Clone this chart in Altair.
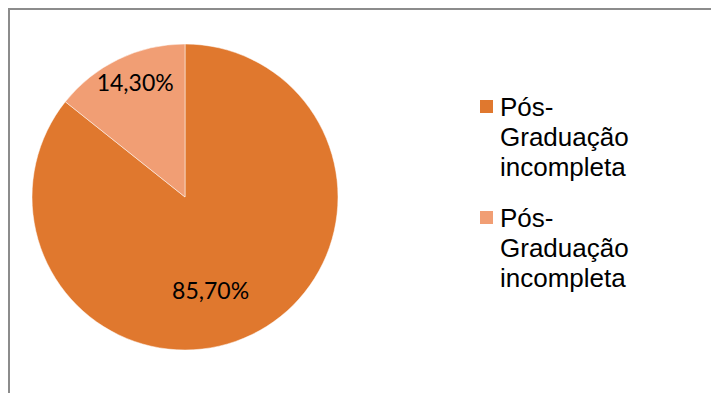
import altair as alt
import pandas as pd

categories = ["A", "B"]
labels = ["Pós-Graduação incompleta", "Pós-Graduação incompleta"]
values = [85.7, 14.3]
pct_text = ["85,70%", "14,30%"]
colors = ["#E0782E", "#F19E74"]

df = pd.DataFrame({"cat": categories, "label": labels, "value": values, "txt": pct_text})

W, H = 702, 384
cx, cy, R = 176, 188, 153

color_scale = alt.Scale(domain=categories, range=colors)

base = alt.Chart(df).encode(
    theta=alt.Theta("value:Q", stack=True),
    order=alt.Order("cat:N"),
)

arcs = base.mark_arc(radius=R, stroke="white", strokeWidth=0.5).encode(
    color=alt.Color("cat:N", scale=color_scale, legend=None), x=alt.value(cx), y=alt.value(cy)
)

txt_base = (
    alt.Chart(df)
    .transform_joinaggregate(total="sum(value)")
    .transform_window(cum="sum(value)", sort=[alt.SortField("cat")])
    .transform_calculate(mid="(datum.cum - datum.value / 2) / datum.total * 2 * PI")
    .encode(theta=alt.Theta("mid:Q", scale=None), text="txt:N", x=alt.value(cx), y=alt.value(cy))
)

t1 = txt_base.mark_text(radius=98, font="Lato", fontSize=23, color="#000000", dx=-17, dy=7).transform_filter(
    alt.datum.cat == "A"
)
t2 = txt_base.mark_text(radius=124, font="Lato", fontSize=23, color="#000000", dx=4, dy=-1).transform_filter(
    alt.datum.cat == "B"
)

# custom legend (multi-line labels)
leg_y = alt.Y("cat:N", scale=alt.Scale(type="point", domain=categories, range=[97.5, 208.5], padding=0), axis=None)

leg_sym = alt.Chart(df).mark_square(size=169, opacity=1).encode(
    x=alt.value(477.5), y=leg_y, color=alt.Color("cat:N", scale=color_scale, legend=None)
)

leg_txt = (
    alt.Chart(df)
    .transform_calculate(lines="split(replace(datum.label, '-', '- '), ' ')")
    .mark_text(
        align="left", baseline="alphabetic", font="Liberation Sans", fontSize=26,
        lineHeight=30, color="#000000", dy=9,
    )
    .encode(x=alt.value(491), y=leg_y, text="lines:N")
)

# chart frame (top and left edges visible; right/bottom fall outside the window)
frame_top = alt.Chart(df).mark_rule(color="#8C8C8C", strokeWidth=2).encode(
    x=alt.value(-1), x2=alt.value(W + 1), y=alt.value(0)
)
frame_left = alt.Chart(df).mark_rule(color="#8C8C8C", strokeWidth=2).encode(
    x=alt.value(0), y=alt.value(-1), y2=alt.value(H + 1)
)

chart = alt.layer(arcs, t1, t2, leg_sym, leg_txt, frame_top, frame_left).properties(
    width=W, height=H, autosize=alt.AutoSizeParams(type="none"),
    padding={"left": 1, "top": 1, "right": 0, "bottom": 0},
).configure_view(stroke=None)

chart.save("out.html", embed_options={"renderer": "svg", "actions": False})
